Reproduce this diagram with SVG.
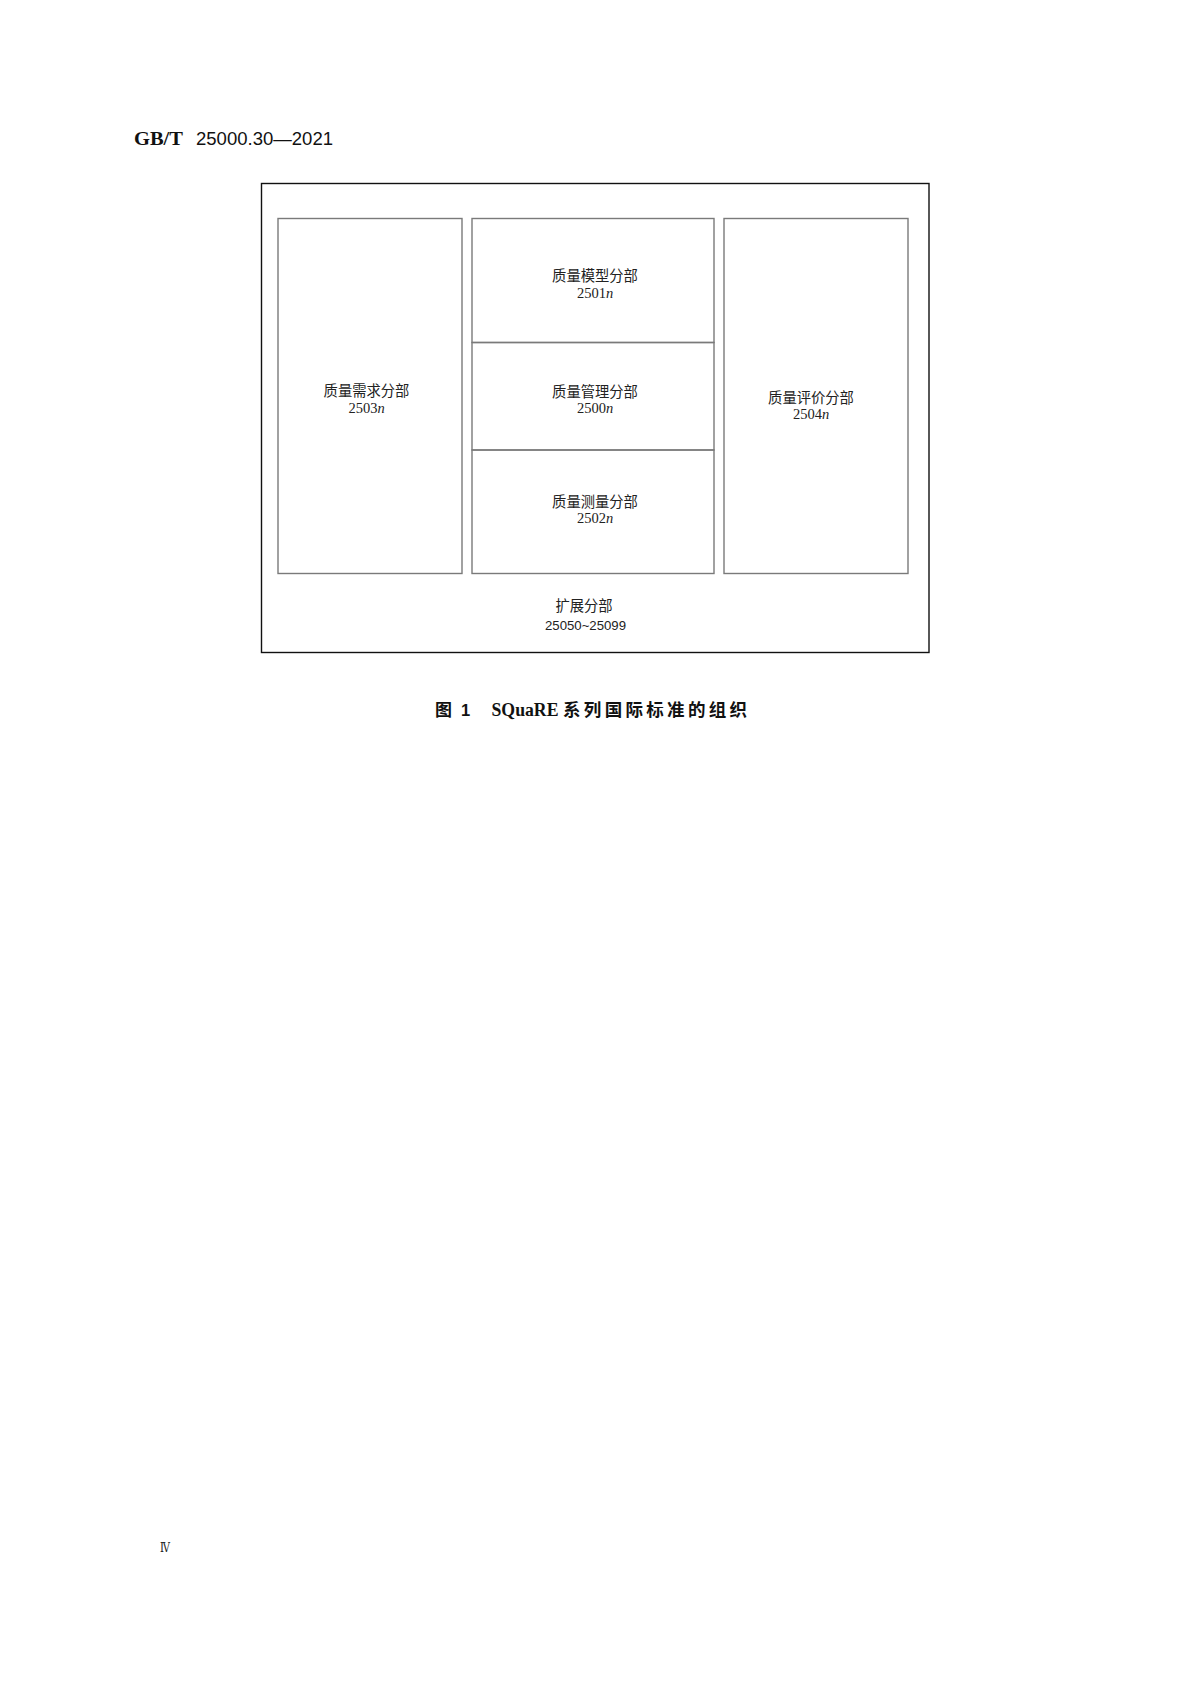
<svg xmlns="http://www.w3.org/2000/svg" width="1191" height="1684" viewBox="0 0 1191 1684">
<style>
.outer{fill:none;stroke:#111;stroke-width:1.4}
.box{fill:none;stroke:#7a7a7a;stroke-width:1.4}
.cjk{font-family:"Noto Sans CJK SC",sans-serif;font-size:14.3px;fill:#222;text-anchor:middle}
.num{font-family:"Liberation Serif",serif;font-size:14.5px;fill:#222;text-anchor:middle}
.it{font-style:italic}
.sans{font-family:"Liberation Sans",sans-serif;font-size:13.5px;fill:#222;text-anchor:middle}
.cap{font-weight:bold;fill:#111}
</style>
<rect width="1191" height="1684" fill="#fff"/>
<text x="134" y="145" font-family="Liberation Serif,serif" font-weight="bold" font-size="19" fill="#111" textLength="49" lengthAdjust="spacingAndGlyphs">GB/T</text>
<text x="196" y="145" font-family="Liberation Sans,sans-serif" font-size="17.5" fill="#111" textLength="137" lengthAdjust="spacingAndGlyphs">25000.30—2021</text>
<g id="frame">
<rect class="outer" x="261.5" y="183.5" width="667.5" height="469"/>
</g>
<g id="n2503">
<rect class="box" x="278" y="218.5" width="184" height="355"/>
<text class="cjk" x="366.5" y="396">质量需求分部</text>
<text class="num" x="366.5" y="412.5">2503<tspan class="it">n</tspan></text>
</g>
<g id="n2501">
<rect class="box" x="472" y="218.5" width="242" height="124"/>
<text class="cjk" x="595" y="281">质量模型分部</text>
<text class="num" x="595" y="297.5">2501<tspan class="it">n</tspan></text>
</g>
<g id="n2500">
<rect class="box" x="472" y="342.5" width="242" height="107.5"/>
<text class="cjk" x="595" y="396.5">质量管理分部</text>
<text class="num" x="595" y="413">2500<tspan class="it">n</tspan></text>
</g>
<g id="n2502">
<rect class="box" x="472" y="450" width="242" height="123.5"/>
<text class="cjk" x="595" y="507">质量测量分部</text>
<text class="num" x="595" y="523">2502<tspan class="it">n</tspan></text>
</g>
<g id="n2504">
<rect class="box" x="724" y="218.5" width="184" height="355"/>
<text class="cjk" x="811" y="403">质量评价分部</text>
<text class="num" x="811" y="418.5">2504<tspan class="it">n</tspan></text>
</g>
<g id="ext">
<text class="cjk" x="584" y="611">扩展分部</text>
<text class="sans" x="585.5" y="630" textLength="81" lengthAdjust="spacingAndGlyphs">25050~25099</text>
</g>
<g id="connectors"></g>
<text class="cap" x="435" y="716" font-family="Noto Sans CJK SC,sans-serif" font-size="17">图</text>
<text class="cap" x="461" y="716" font-family="Liberation Sans,sans-serif" font-size="16.5">1</text>
<text class="cap" x="491.5" y="716" font-family="Liberation Serif,serif" font-size="18.5" textLength="67" lengthAdjust="spacingAndGlyphs">SQuaRE</text>
<text class="cap" x="563" y="716" font-family="Noto Sans CJK SC,sans-serif" font-size="17.5" textLength="184" lengthAdjust="spacing">系列国际标准的组织</text>
<text x="160" y="1552" font-family="DejaVu Serif,Liberation Serif,serif" font-size="12.5" fill="#222" textLength="10" lengthAdjust="spacingAndGlyphs">Ⅳ</text>
</svg>
